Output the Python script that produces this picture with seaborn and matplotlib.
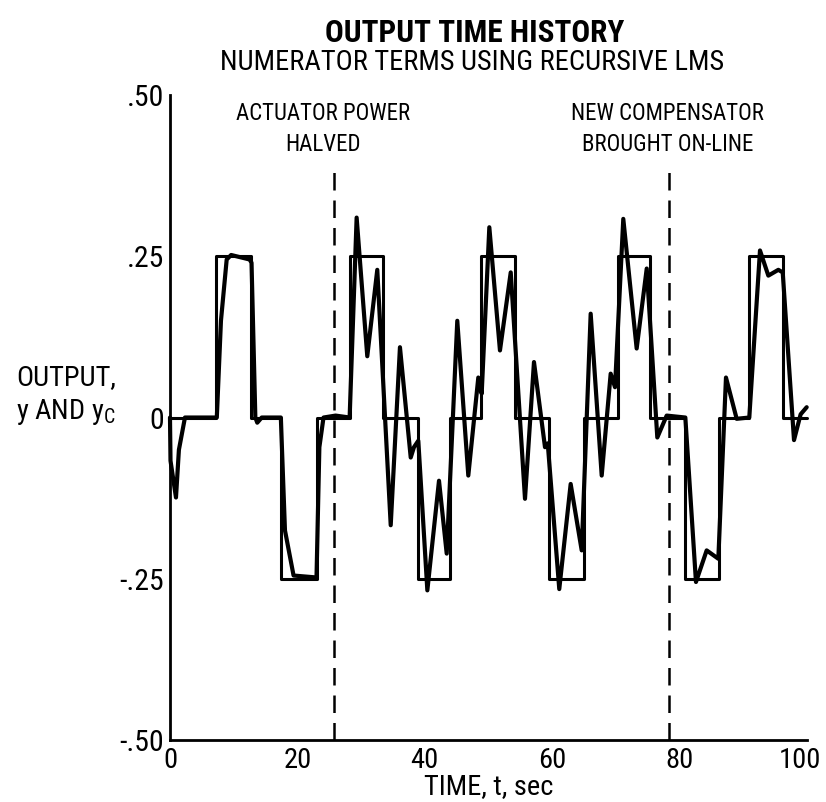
import matplotlib
matplotlib.use("Agg")
import matplotlib.pyplot as plt
from matplotlib import font_manager
from matplotlib.transforms import ScaledTranslation
import seaborn as sns
import pandas as pd

# ---- data ----
cmd_t = [0, 7.3, 12.7, 17.4, 23.0, 28.2, 33.4, 38.9, 44.0, 48.9, 54.2, 59.5,
         65.0, 70.4, 75.4, 80.9, 86.2, 90.9, 96.2, 100]
cmd_y = [0, .25, 0, -.25, 0, .25, 0, -.25, 0, .25, 0, -.25,
         0, .25, 0, -.25, 0, .25, 0, 0]

out_t = [0, 0.08, 0.94, 1.4, 2.35, 7.35, 8.0, 8.9, 9.6, 12.5, 12.8, 13.4, 13.7, 14.4,
         17.4, 18.05, 19.4, 23.0, 23.45, 24.1, 26.0, 28.2,
         29.3, 30.97, 32.54, 34.65, 36.1, 37.79, 38.3, 38.98, 40.4, 42.23, 43.44,
         45.1, 46.83, 48.4, 48.93, 50.13, 51.8, 53.49, 55.73, 57.14, 58.87, 59.3,
         61.11, 62.9, 64.63, 66.04, 67.77, 69.18, 69.86, 71.16, 73.26, 74.84,
         76.5, 77.97, 80.9, 82.57, 84.25, 86.08, 87.28, 88.96, 90.94,
         92.62, 93.93, 95.5, 96.19, 97.96, 99.0, 99.95]
out_y = [0, -0.067, -0.124, -0.05, 0, 0, 0.15, 0.245, 0.252, 0.245, 0.24, 0.0, -0.008, 0,
         0, -0.175, -0.245, -0.248, -0.046, 0, 0.003, 0,
         0.31, 0.095, 0.229, -0.167, 0.109, -0.062, -0.046, -0.036, -0.268, -0.098, -0.211,
         0.150, -0.09, 0.062, 0.037, 0.295, 0.104, 0.225, -0.126, 0.086, -0.046, -0.04,
         -0.266, -0.103, -0.206, 0.161, -0.09, 0.068, 0.047, 0.308, 0.107, 0.231,
         -0.031, 0.003, 0, -0.255, -0.206, -0.219, 0.062, -0.002, 0,
         0.259, 0.220, 0.229, 0.225, -0.035, 0.005, 0.016]

event_t = [25.7, 78.3]
event_labels = ["ACTUATOR POWER\nHALVED", "NEW COMPENSATOR\nBROUGHT ON-LINE"]
y_ticks = [-0.5, -0.25, 0, 0.25, 0.5]
y_ticklabels = ["-.50", "-.25", "0", ".25", ".50"]
x_ticks = [0, 20, 40, 60, 80, 100]
x_ticklabels = ["0", "20", "40", "60", "80", "100"]

sns.set_theme(style="white")
available = {f.name for f in font_manager.fontManager.ttflist}
narrow = None
for cand in ["DejaVu Sans Condensed", "Liberation Sans Narrow", "Roboto Condensed",
             "Open Sans Condensed", "Noto Sans Condensed"]:
    if cand in available:
        narrow = cand
        break
if narrow is None:
    FONT = ["DejaVu Sans"]
    scale = 0.82
else:
    FONT = [narrow, "DejaVu Sans"]
    scale = 1.0
plt.rcParams["font.family"] = FONT
for k in ["text.color", "axes.labelcolor", "xtick.color", "ytick.color"]:
    plt.rcParams[k] = "black"

fig = plt.figure(figsize=(8.26, 8.02), dpi=100)
ax = fig.add_axes([0.2058, 0.0773, 0.7712, 0.8042])

cmd_df = pd.DataFrame({"t": cmd_t, "y": cmd_y})
out_df = pd.DataFrame({"t": out_t, "y": out_y})

sns.lineplot(data=cmd_df, x="t", y="y", drawstyle="steps-post", color="black",
             lw=2.2, estimator=None, sort=False, ax=ax, clip_on=False)
sns.lineplot(data=out_df, x="t", y="y", color="black", lw=3.0,
             estimator=None, sort=False, ax=ax, clip_on=False)

for t in event_t:
    ax.axvline(t, ymin=0, ymax=0.895, color="black", lw=1.8, ls=(0, (7, 4)))

ax.text(event_t[0] - 1.7, 0.489, event_labels[0], ha="center", va="top",
        fontsize=16.5 * scale, linespacing=1.45)
ax.text(event_t[1] - 0.2, 0.489, event_labels[1], ha="center", va="top",
        fontsize=16.5 * scale, linespacing=1.45)

ax.set_xlim(0, 100)
ax.set_ylim(-0.5, 0.5)
ax.set_xticks(x_ticks)
ax.set_xticklabels(x_ticklabels, fontsize=20.5 * scale)
ax.set_yticks(y_ticks)
ax.set_yticklabels(y_ticklabels, fontsize=21.5 * scale)
ax.tick_params(axis="both", direction="in", length=10, width=1.8, color="black",
               pad=4)
ax.tick_params(axis="x", pad=5)
last = ax.get_xticklabels()[-1]
last.set_transform(last.get_transform() + ScaledTranslation(-0.07, 0, fig.dpi_scale_trans))
for s in ["top", "right"]:
    ax.spines[s].set_visible(False)
for s in ["left", "bottom"]:
    ax.spines[s].set_color("black")
    ax.spines[s].set_linewidth(2.0)
ax.set_xlabel("TIME, t, sec", fontsize=20.5 * scale, labelpad=-1)
ax.set_ylabel("")
ax.grid(False)

fig.text(0.08, 0.507, "OUTPUT,\ny AND y$_\\mathregular{C}$", ha="center", va="center",
         fontsize=20.5 * scale, linespacing=1.3)
fig.text(0.575, 0.959, "OUTPUT TIME HISTORY", ha="center", va="center",
         fontsize=22.5 * scale, fontweight="bold")
fig.text(0.572, 0.922, "NUMERATOR TERMS USING RECURSIVE LMS", ha="center",
         va="center", fontsize=20.5 * scale)

fig.savefig("out.png", dpi=100, facecolor="white")
